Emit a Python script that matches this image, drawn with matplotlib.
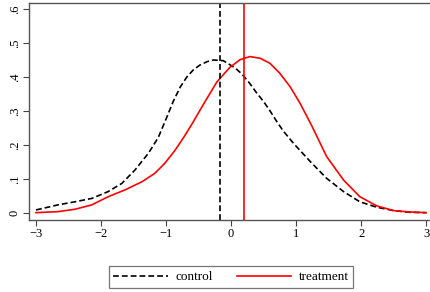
import matplotlib
matplotlib.use("Agg")
import matplotlib.pyplot as plt

# kernel density curves
ctrl_x = [-3.0, -2.66, -2.40, -2.14, -1.89, -1.68, -1.48, -1.27, -1.12, -0.99, -0.89, -0.78,
          -0.68, -0.58, -0.48, -0.37, -0.27, -0.12, 0.06, 0.16, 0.28, 0.39, 0.50, 0.60, 0.70,
          0.80, 0.96, 1.22, 1.47, 1.73, 1.98, 2.24, 2.50, 2.75, 3.0]
ctrl_y = [0.009, 0.024, 0.033, 0.043, 0.063, 0.087, 0.126, 0.176, 0.222, 0.281, 0.328, 0.371,
          0.400, 0.421, 0.435, 0.445, 0.450, 0.448, 0.427, 0.410, 0.383, 0.354, 0.328, 0.300,
          0.270, 0.242, 0.205, 0.151, 0.102, 0.063, 0.033, 0.017, 0.007, 0.002, 0.001]
treat_x = [-3.0, -2.66, -2.40, -2.14, -1.89, -1.63, -1.37, -1.17, -1.02, -0.86, -0.73, -0.60,
           -0.43, -0.22, -0.02, 0.14, 0.29, 0.45, 0.60, 0.75, 0.91, 1.06, 1.24, 1.47, 1.73,
           1.98, 2.24, 2.50, 2.75, 3.0]
treat_y = [0.001, 0.004, 0.011, 0.024, 0.048, 0.068, 0.092, 0.117, 0.146, 0.185, 0.222, 0.262,
           0.318, 0.385, 0.428, 0.451, 0.460, 0.455, 0.440, 0.411, 0.371, 0.323, 0.257, 0.166,
           0.097, 0.048, 0.021, 0.007, 0.003, 0.001]
ctrl_mean = -0.17
treat_mean = 0.2

xticks = [-3, -2, -1, 0, 1, 2, 3]
xlabels = ["\u22123", "\u22122", "\u22121", "0", "1", "2", "3"]
yticks = [0, 0.1, 0.2, 0.3, 0.4, 0.5, 0.6]
ylabels = ["0", ".1", ".2", ".3", ".4", ".5", ".6"]

plt.rcParams['font.family'] = ['Liberation Serif', 'DejaVu Serif']

fig = plt.figure(figsize=(4.3, 2.92), dpi=100)
ax = fig.add_axes([29/430, 72/292, 1 - 29/430, 217/292])

dash = (0, (3.5, 1.8))
ax.plot(ctrl_x, ctrl_y, color='black', lw=1.2, linestyle=dash, label='control')
ax.plot(treat_x, treat_y, color='red', lw=1.2, label='treatment')
ax.axvline(ctrl_mean, color='black', lw=1.2, linestyle=dash)
ax.axvline(treat_mean, color='red', lw=1.2)

ax.set_xlim(-3.108, 3.06)
ax.set_ylim(-0.0206, 0.6176)
ax.set_xticks(xticks)
ax.set_xticklabels(xlabels, fontsize=9)
ax.set_yticks(yticks)
ax.set_yticklabels(ylabels, fontsize=9, rotation=90, va='center')
ax.tick_params(length=4, width=0.8, color='#444444', pad=2)

for s in ['left', 'bottom', 'top']:
    ax.spines[s].set_color('#555555')
    ax.spines[s].set_linewidth(1.0)
ax.spines['right'].set_visible(False)

leg = fig.legend(loc='center', bbox_to_anchor=(231/430, 0.051), ncol=2, fontsize=9.5,
                 fancybox=False, edgecolor='#555555', handlelength=4.1,
                 columnspacing=1.8, handletextpad=0.6, borderpad=0.35)
leg.get_frame().set_linewidth(0.9)

fig.savefig('out.png', dpi=100)
